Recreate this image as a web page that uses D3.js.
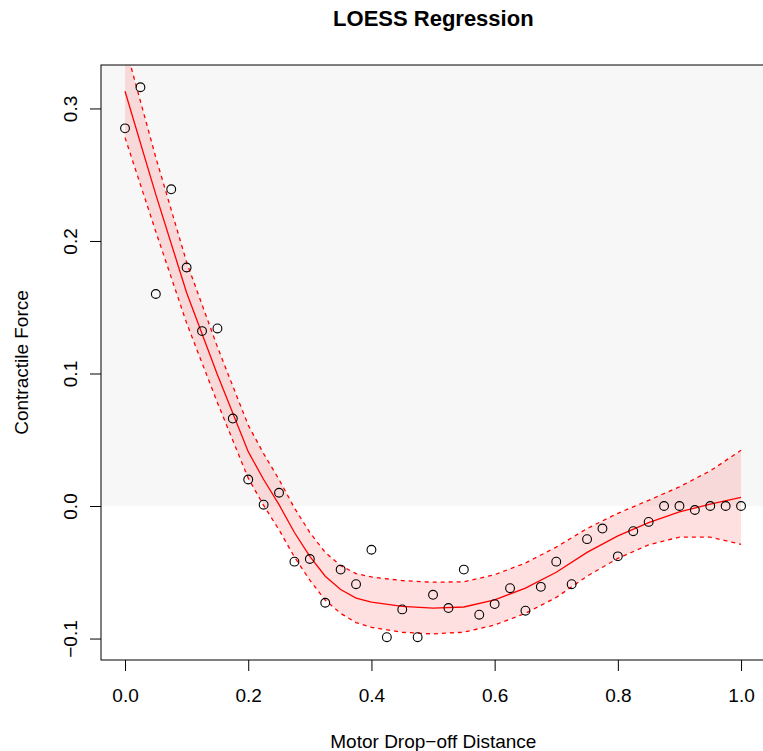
<!DOCTYPE html>
<html>
<head>
<meta charset="utf-8">
<script src="https://cdn.jsdelivr.net/npm/d3@7"></script>
<style>
  body { margin: 0; background: #fff; }
  text { font-family: "Liberation Sans", Arial, Helvetica, sans-serif; fill: #000; }
</style>
</head>
<body>
<svg id="chart" width="763" height="751"></svg>
<script>
let width = 763;
let height = 751;

// observed points
const distance = [0, 0.025, 0.05, 0.075, 0.1, 0.125, 0.15, 0.175, 0.2, 0.225,
  0.25, 0.275, 0.3, 0.325, 0.35, 0.375, 0.4, 0.425, 0.45, 0.475,
  0.5, 0.525, 0.55, 0.575, 0.6, 0.625, 0.65, 0.675, 0.7, 0.725,
  0.75, 0.775, 0.8, 0.825, 0.85, 0.875, 0.9, 0.925, 0.95, 0.975, 1.0];
const force = [0.285, 0.316, 0.160, 0.239, 0.180, 0.132, 0.134, 0.066, 0.020, 0.001,
  0.010, -0.042, -0.040, -0.073, -0.048, -0.059, -0.033, -0.099, -0.078, -0.099,
  -0.067, -0.077, -0.048, -0.082, -0.074, -0.062, -0.079, -0.061, -0.042, -0.059,
  -0.025, -0.017, -0.038, -0.019, -0.012, 0.000, 0.000, -0.003, 0.000, 0.000, 0.000];

// loess fit + band half width
const fitX = [0, 0.05, 0.1, 0.15, 0.2, 0.225, 0.25, 0.275, 0.3, 0.325, 0.35, 0.375, 0.4, 0.45, 0.5,
  0.55, 0.6, 0.65, 0.7, 0.75, 0.8, 0.85, 0.9, 0.95, 1.0];
const fitY = [0.313, 0.235, 0.161, 0.099, 0.041, 0.020, 0.001, -0.020, -0.038, -0.053, -0.063, -0.0695, -0.0725, -0.0758, -0.0770,
  -0.0762, -0.0708, -0.062, -0.050, -0.035, -0.0225, -0.0125, -0.0045, 0.0015, 0.0066];
const halfWidth = [0.035, 0.028, 0.023, 0.021, 0.020, 0.0195, 0.019, 0.0185, 0.018, 0.018, 0.018, 0.0185, 0.019, 0.0195, 0.0195,
  0.019, 0.019, 0.019, 0.019, 0.018, 0.017, 0.0168, 0.019, 0.025, 0.0355];

const xTicks = [0, 0.2, 0.4, 0.6, 0.8, 1.0];
const yTicks = [-0.1, 0, 0.1, 0.2, 0.3];

let x = d3.scaleLinear().domain([-0.039, 1.04]).range([101, 765.7]);
let y = d3.scaleLinear().domain([-0.1162, 0.3328]).range([660, 65]);

let svg = d3.select("#chart");
let fmt = d3.format(".1f");

svg.append("defs").append("clipPath").attr("id", "plotClip")
  .append("rect")
  .attr("x", x.range()[0]).attr("y", y.range()[1])
  .attr("width", x.range()[1] - x.range()[0])
  .attr("height", y.range()[0] - y.range()[1]);

let plot = svg.append("g").attr("clip-path", "url(#plotClip)");

// grey shade above zero
plot.append("rect")
  .attr("x", x.range()[0])
  .attr("y", y.range()[1])
  .attr("width", x.range()[1] - x.range()[0])
  .attr("height", y(0) - y.range()[1])
  .attr("fill", "#f7f7f7");

let band = fitX.map((d, i) => ({ x: d, fit: fitY[i], lo: fitY[i] - halfWidth[i], hi: fitY[i] + halfWidth[i] }));

plot.append("path")
  .datum(band)
  .attr("fill", "rgba(255,0,0,0.12)")
  .attr("d", d3.area().x(d => x(d.x)).y0(d => y(d.lo)).y1(d => y(d.hi)));

["lo", "hi"].forEach(k => {
  plot.append("path")
    .datum(band)
    .attr("fill", "none")
    .attr("stroke", "#ff0000")
    .attr("stroke-width", 1.3)
    .attr("stroke-dasharray", "4,4")
    .attr("d", d3.line().x(d => x(d.x)).y(d => y(d[k])));
});

plot.append("path")
  .datum(band)
  .attr("fill", "none")
  .attr("stroke", "#ff0000")
  .attr("stroke-width", 1.3)
  .attr("d", d3.line().x(d => x(d.x)).y(d => y(d.fit)));

plot.selectAll("circle.pt")
  .data(distance)
  .enter()
  .append("circle")
  .attr("class", "pt")
  .attr("cx", d => x(d))
  .attr("cy", (d, i) => y(force[i]))
  .attr("r", 4.4)
  .attr("fill", "none")
  .attr("stroke", "#000")
  .attr("stroke-width", 1.1);

// box
svg.append("rect")
  .attr("x", x.range()[0]).attr("y", y.range()[1])
  .attr("width", x.range()[1] - x.range()[0])
  .attr("height", y.range()[0] - y.range()[1])
  .attr("fill", "none").attr("stroke", "#000").attr("stroke-width", 1);

// axes
let xAxis = svg.append("g")
  .attr("transform", `translate(0,${y.range()[0]})`)
  .call(d3.axisBottom(x).tickValues(xTicks).tickFormat(fmt).tickSize(11).tickPadding(18));
xAxis.select(".domain").remove();
xAxis.selectAll("text").attr("font-size", 19).attr("font-family", null);

let yAxis = svg.append("g")
  .attr("transform", `translate(${x.range()[0]},0)`)
  .call(d3.axisLeft(y).tickValues(yTicks).tickFormat(fmt).tickSize(11));
yAxis.select(".domain").remove();
yAxis.selectAll("text")
  .attr("x", null).attr("dy", null)
  .attr("transform", "translate(-24,0) rotate(-90)")
  .attr("text-anchor", "middle")
  .attr("font-size", 19).attr("font-family", null);

svg.selectAll(".tick line").attr("stroke", "#000");

// titles
let midX = (x.range()[0] + x.range()[1]) / 2;
let midY = (y.range()[0] + y.range()[1]) / 2;

svg.append("text")
  .attr("x", midX).attr("y", 26)
  .attr("text-anchor", "middle")
  .attr("font-size", 22).attr("font-weight", "bold")
  .text("LOESS Regression");

svg.append("text")
  .attr("x", midX).attr("y", 748)
  .attr("text-anchor", "middle")
  .attr("font-size", 19)
  .text("Motor Drop\u2212off Distance");

svg.append("text")
  .attr("transform", `translate(28,${midY}) rotate(-90)`)
  .attr("text-anchor", "middle")
  .attr("font-size", 19)
  .text("Contractile Force");
</script>
</body>
</html>
